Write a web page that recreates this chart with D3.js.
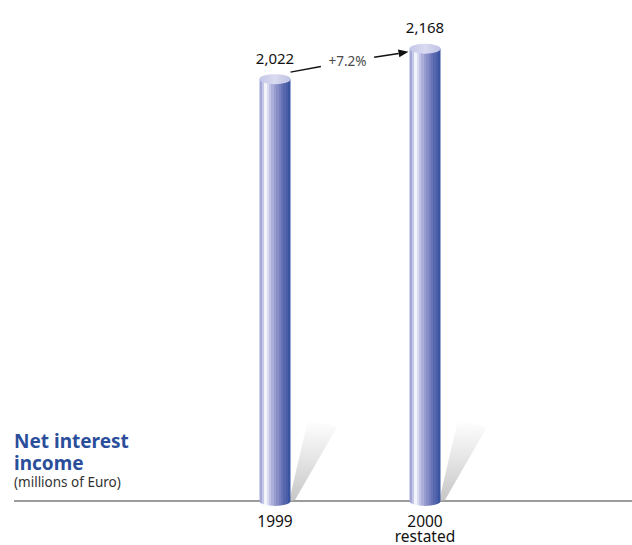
<!DOCTYPE html>
<html>
<head>
<meta charset="utf-8">
<script src="https://cdn.jsdelivr.net/npm/d3@7"></script>
<style>
  html, body { margin: 0; padding: 0; background: #fff; }
  svg { display: block; }
  text { font-family: "Noto Sans", "Open Sans", sans-serif; }
</style>
</head>
<body>
<script>
// Net interest income, millions of Euro
const years = ["1999", "2000 restated"];
const values = [2022, 2168];
const valueLabels = ["2,022", "2,168"];

const W = 632, H = 545;
const baseY = 501;

const svg = d3.select("body").append("svg").attr("width", W).attr("height", H);
const defs = svg.append("defs");

const x = d3.scaleBand().domain(years).range([200, 500]).padding(0);
const y = d3.scaleLinear().domain([0, 2200]).range([baseY, 42]);

const barW = 31, ry = 5;

// banded cylinder shading, light on the left, deep blue on the right
const bands = ["#a4a8d7", "#c6c8e7", "#f3f3fa", "#dadcf1", "#c1c4e5", "#aaaed9",
               "#989dd0", "#878dc6", "#777fbd", "#6771b5", "#5767ad", "#4a5ea8", "#3a54a1"];
const body = defs.append("linearGradient").attr("id", "cyl").attr("x1", 0).attr("x2", 1).attr("y1", 0).attr("y2", 0);
bands.forEach((c, i) => {
  body.append("stop").attr("offset", i / bands.length).attr("stop-color", c);
  body.append("stop").attr("offset", (i + 1) / bands.length).attr("stop-color", c);
});
const cap = defs.append("linearGradient").attr("id", "cap").attr("x1", 0).attr("x2", 1).attr("y1", 0).attr("y2", 0);
cap.append("stop").attr("offset", 0).attr("stop-color", "#c4c6e7");
cap.append("stop").attr("offset", 0.5).attr("stop-color", "#d9dbf1");
cap.append("stop").attr("offset", 1).attr("stop-color", "#bfc2e4");

// cast shadow fades out towards its top
const shade = defs.append("linearGradient").attr("id", "shade").attr("x1", 0).attr("x2", 0).attr("y1", 1).attr("y2", 0);
shade.append("stop").attr("offset", 0).attr("stop-color", "#c6c6c6");
shade.append("stop").attr("offset", 0.5).attr("stop-color", "#e4e4e4");
shade.append("stop").attr("offset", 1).attr("stop-color", "#ffffff");

// baseline
svg.append("line")
  .attr("x1", 14).attr("x2", W).attr("y1", baseY).attr("y2", baseY)
  .attr("stroke", "#7a7a7a").attr("stroke-width", 1.6);

const g = svg.append("g");
const bar = g.selectAll("g.bar").data(years.map((k, i) => ({ k, v: values[i], lab: valueLabels[i] })))
  .join("g").attr("class", "bar");

bar.append("path")
  .attr("d", d => {
    const cx = x(d.k) + x.bandwidth() / 2;
    return `M${cx + 14},${baseY} L${cx + 20},${baseY - 1} L${cx + 62},${baseY - 74} L${cx + 33},${baseY - 81} Z`;
  })
  .attr("fill", "url(#shade)");

// cylinder body with rounded bottom
bar.append("path")
  .attr("d", d => {
    const cx = x(d.k) + x.bandwidth() / 2;
    const l = cx - barW / 2, r = cx + barW / 2, t = y(d.v);
    return `M${l},${t} L${l},${baseY} A${barW / 2},${ry} 0 0 0 ${r},${baseY} L${r},${t} Z`;
  })
  .attr("fill", "url(#cyl)");

// top cap
bar.append("ellipse")
  .attr("cx", d => x(d.k) + x.bandwidth() / 2)
  .attr("cy", d => y(d.v))
  .attr("rx", barW / 2).attr("ry", ry)
  .attr("fill", "url(#cap)");

// value labels
bar.append("text")
  .attr("x", d => x(d.k) + x.bandwidth() / 2)
  .attr("y", d => y(d.v) - 15.5)
  .attr("text-anchor", "middle")
  .attr("font-size", 15).attr("fill", "#111")
  .text(d => d.lab);

// category labels
bar.append("text")
  .attr("text-anchor", "middle")
  .attr("font-size", 15.5).attr("fill", "#111")
  .each(function (d) {
    const cx = x(d.k) + x.bandwidth() / 2;
    const parts = d.k.split(" ");
    d3.select(this).selectAll("tspan").data(parts).join("tspan")
      .attr("x", cx).attr("y", (p, i) => 527 + i * 15).text(p => p);
  });

// growth arrow between the two columns
const c0 = x(years[0]) + x.bandwidth() / 2, c1 = x(years[1]) + x.bandwidth() / 2;
const p0 = [c0 + barW / 2, y(values[0]) - 7];
const p1 = [c1 - barW / 2 - 1, y(values[1]) + 3];
const mid = [(p0[0] + p1[0]) / 2 - 2, (p0[1] + p1[1]) / 2];
const gap = 27;
const dx = p1[0] - p0[0], dy = p1[1] - p0[1], len = Math.hypot(dx, dy);
const ux = dx / len, uy = dy / len;
const growth = (values[1] / values[0] - 1) * 100;

svg.append("line")
  .attr("x1", p0[0]).attr("y1", p0[1])
  .attr("x2", mid[0] - ux * gap).attr("y2", mid[1] - uy * gap)
  .attr("stroke", "#111").attr("stroke-width", 1.5);
const headLen = 10, tip = p1;
const ax = tip[0] - ux * headLen, ay = tip[1] - uy * headLen;
svg.append("line")
  .attr("x1", mid[0] + ux * gap).attr("y1", mid[1] + uy * gap)
  .attr("x2", ax).attr("y2", ay)
  .attr("stroke", "#111").attr("stroke-width", 1.5);
svg.append("path")
  .attr("d", `M${tip[0]},${tip[1]} L${ax - uy * 4},${ay + ux * 4} L${ax + uy * 4},${ay - ux * 4} Z`)
  .attr("fill", "#111");
svg.append("text")
  .attr("x", mid[0]).attr("y", mid[1] + 4.5)
  .attr("text-anchor", "middle")
  .attr("font-size", 13.5).attr("fill", "#4a4a4a")
  .text("+" + growth.toFixed(1) + "%");

// title block
const title = svg.append("g");
title.append("text").attr("x", 14).attr("y", 448)
  .attr("font-size", 19).attr("font-weight", "bold").attr("fill", "#2b4e9b").text("Net interest");
title.append("text").attr("x", 14).attr("y", 470)
  .attr("font-size", 19).attr("font-weight", "bold").attr("fill", "#2b4e9b").text("income");
title.append("text").attr("x", 14).attr("y", 487)
  .attr("font-size", 13.5).attr("fill", "#333").text("(millions of Euro)");
</script>
</body>
</html>
